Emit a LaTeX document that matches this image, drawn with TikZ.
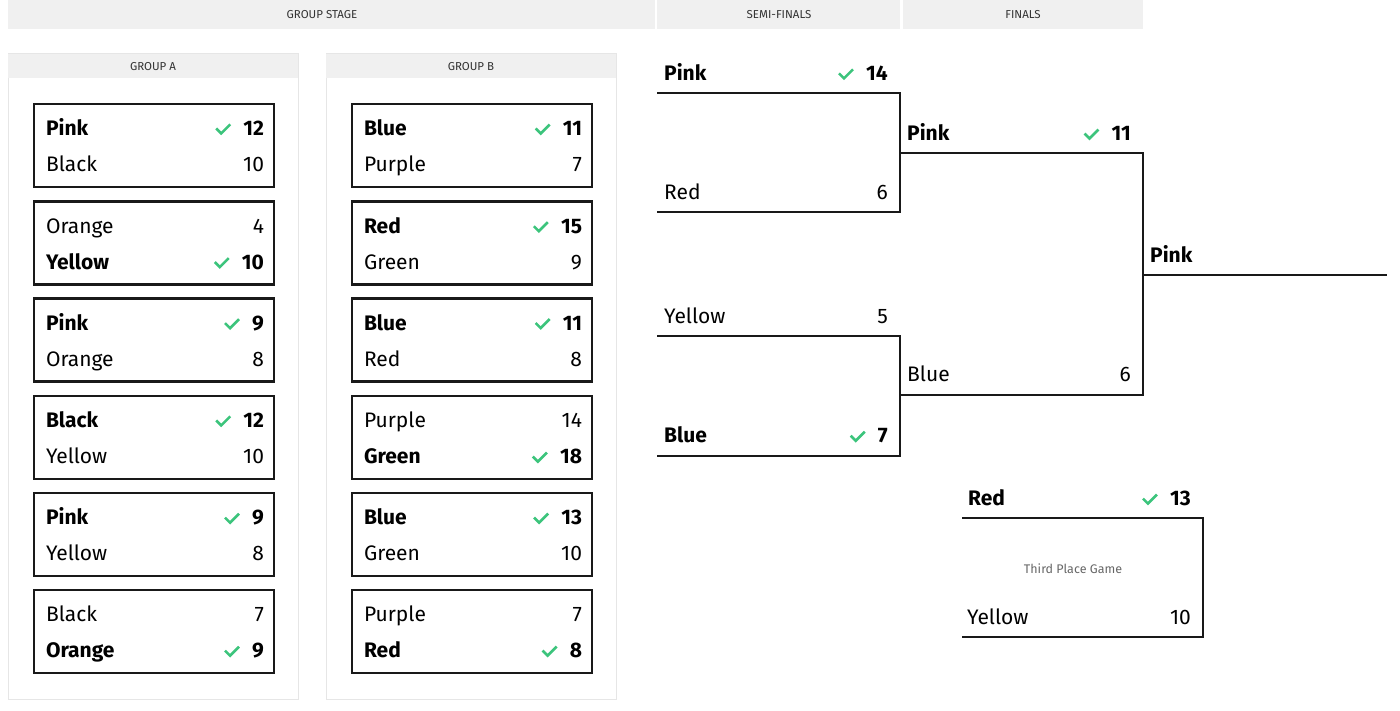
\documentclass[tikz,border=0pt]{standalone}
\usepackage{fontspec}
\setmainfont{Fira Sans}
\usepackage{xcolor}
\usetikzlibrary{calc,positioning}
\definecolor{headgray}{HTML}{F0F0F0}
\definecolor{panelline}{HTML}{E6E6E6}
\definecolor{winGreen}{HTML}{3CC47C}
\tikzset{
  head/.style={fill=headgray,draw=none,font=\fontsize{11.5}{13}\selectfont,text=black!80,yshift=-1pt},
  match/.style={draw=black!90,line width=2.4pt,minimum width=240pt,minimum height=83pt,inner sep=0pt},
  team/.style={font=\fontsize{21}{25}\selectfont,inner sep=0pt,anchor=mid west,yshift=-5pt},
  score/.style={font=\fontsize{21}{25}\selectfont,inner sep=0pt,anchor=mid east,yshift=-5pt},
  win/.style={font=\fontsize{21}{25}\selectfont\bfseries},
  bracket/.style={line width=2.2pt,black!90},
  check/.style={winGreen,line width=2.6pt},
}
\newcommand{\chk}[1]{\draw[check,shift={(#1)}] (-7,0) -- (-2,5) -- (7,-4);}
\begin{document}
\begin{tikzpicture}[x=1pt,y=-1pt]
    \useasboundingbox (0,0) rectangle (1400,711);

    % Header bar
    \fill[headgray] (8,0) rectangle (655,29);
    \fill[headgray] (657,0) rectangle (900,29);
    \fill[headgray] (903,0) rectangle (1143,29);
    \node[head] (hgs) at (322,14) {GROUP STAGE};
    \node[head] (hsf) at (779,14) {SEMI-FINALS};
    \node[head] (hf) at (1023,14) {FINALS};

    % Group panels
    \draw[panelline,line width=1pt] (8,54) rectangle (298,699);
    \fill[headgray] (8,54) rectangle (298,78);
    \node[head] (hga) at (153,66) {GROUP A};
    \draw[panelline,line width=1pt] (326,54) rectangle (616,699);
    \fill[headgray] (326,54) rectangle (616,78);
    \node[head] (hgb) at (471,66) {GROUP B};

    % Group matches: name/x/y/team1/score1/team2/score2/winner
    \foreach \n/\x/\y/\ta/\sa/\tb/\sb/\w in {
        a1/154/145.5/Pink/12/Black/10/1,
        a2/154/243/Orange/4/Yellow/10/2,
        a3/154/340/Pink/9/Orange/8/1,
        a4/154/437.5/Black/12/Yellow/10/1,
        a5/154/534.5/Pink/9/Yellow/8/1,
        a6/154/631.5/Black/7/Orange/9/2,
        b1/472/145.5/Blue/11/Purple/7/1,
        b2/472/243/Red/15/Green/9/1,
        b3/472/340/Blue/11/Red/8/1,
        b4/472/437.5/Purple/14/Green/18/2,
        b5/472/534.5/Blue/13/Green/10/1,
        b6/472/631.5/Purple/7/Red/8/2} {
      \node[match] (\n) at (\x,\y) {};
      \ifnum\w=1
        \node[team,win] (\n t1) at ($(\n.west)+(13,-17.5)$) {\ta};
        \node[score,win] (\n s1) at ($(\n.east)+(-11,-17.5)$) {\sa};
        \node[team] (\n t2) at ($(\n.west)+(13,18.5)$) {\tb};
        \node[score] (\n s2) at ($(\n.east)+(-11,18.5)$) {\sb};
        \chk{$(\n s1.west)+(-20,0)$}
      \else
        \node[team] (\n t1) at ($(\n.west)+(13,-17.5)$) {\ta};
        \node[score] (\n s1) at ($(\n.east)+(-11,-17.5)$) {\sa};
        \node[team,win] (\n t2) at ($(\n.west)+(13,18.5)$) {\tb};
        \node[score,win] (\n s2) at ($(\n.east)+(-11,18.5)$) {\sb};
        \chk{$(\n s2.west)+(-20,0)$}
      \fi
    }

    % Bracket corners
    \coordinate (sf1a) at (657,93);   \coordinate (sf1b) at (657,212);
    \coordinate (sf1r) at (900,93);   \coordinate (sf1s) at (900,212);
    \coordinate (sf2a) at (657,336);  \coordinate (sf2b) at (657,456);
    \coordinate (sf2r) at (900,336);  \coordinate (sf2s) at (900,456);
    \coordinate (fa) at (900,153);    \coordinate (fb) at (900,395);
    \coordinate (far) at (1143,153);  \coordinate (fbr) at (1143,395);
    \coordinate (win) at (1143,275);  \coordinate (wine) at (1387,275);
    \coordinate (tpa) at (962,518);   \coordinate (tpb) at (962,637);
    \coordinate (tpar) at (1203,518); \coordinate (tpbr) at (1203,637);

    \draw[bracket] (sf1a) -- (sf1r) -- (sf1s) -- (sf1b);
    \draw[bracket] (sf2a) -- (sf2r) -- (sf2s) -- (sf2b);
    \draw[bracket] (fa) -- (far) -- (fbr) -- (fb);
    \draw[bracket] (win) -- (wine);
    \draw[bracket] (tpa) -- (tpar) -- (tpbr) -- (tpb);

    % Bracket labels
    \node[team,win] (sf1t1) at ($(sf1a)+(7,-20)$) {Pink};
    \node[score,win] (sf1s1) at ($(sf1r)+(-12,-20)$) {14};
    \chk{$(sf1s1.west)+(-20,0)$}
    \node[team] (sf1t2) at ($(sf1b)+(7,-20)$) {Red};
    \node[score] (sf1s2) at ($(sf1s)+(-12,-20)$) {6};

    \node[team] (sf2t1) at ($(sf2a)+(7,-20)$) {Yellow};
    \node[score] (sf2s1) at ($(sf2r)+(-12,-20)$) {5};
    \node[team,win] (sf2t2) at ($(sf2b)+(7,-21)$) {Blue};
    \node[score,win] (sf2s2) at ($(sf2s)+(-12,-21)$) {7};
    \chk{$(sf2s2.west)+(-20,0)$}

    \node[team,win] (ft1) at ($(fa)+(7,-20)$) {Pink};
    \node[score,win] (fs1) at ($(far)+(-12,-20)$) {11};
    \chk{$(fs1.west)+(-20,0)$}
    \node[team] (ft2) at ($(fb)+(7,-21)$) {Blue};
    \node[score] (fs2) at ($(fbr)+(-12,-21)$) {6};

    \node[team,win] (wt) at ($(win)+(7,-20)$) {Pink};

    \node[team,win] (tpt1) at ($(tpa)+(6,-20)$) {Red};
    \node[score,win] (tps1) at ($(tpar)+(-12,-20)$) {13};
    \chk{$(tps1.west)+(-20,0)$}
    \node[team] (tpt2) at ($(tpb)+(5,-20)$) {Yellow};
    \node[score] (tps2) at ($(tpbr)+(-12,-20)$) {10};
    \node[font=\fontsize{12.5}{14}\selectfont,text=black!60] (tpg) at (1073,569) {Third Place Game};
\end{tikzpicture}
\end{document}
